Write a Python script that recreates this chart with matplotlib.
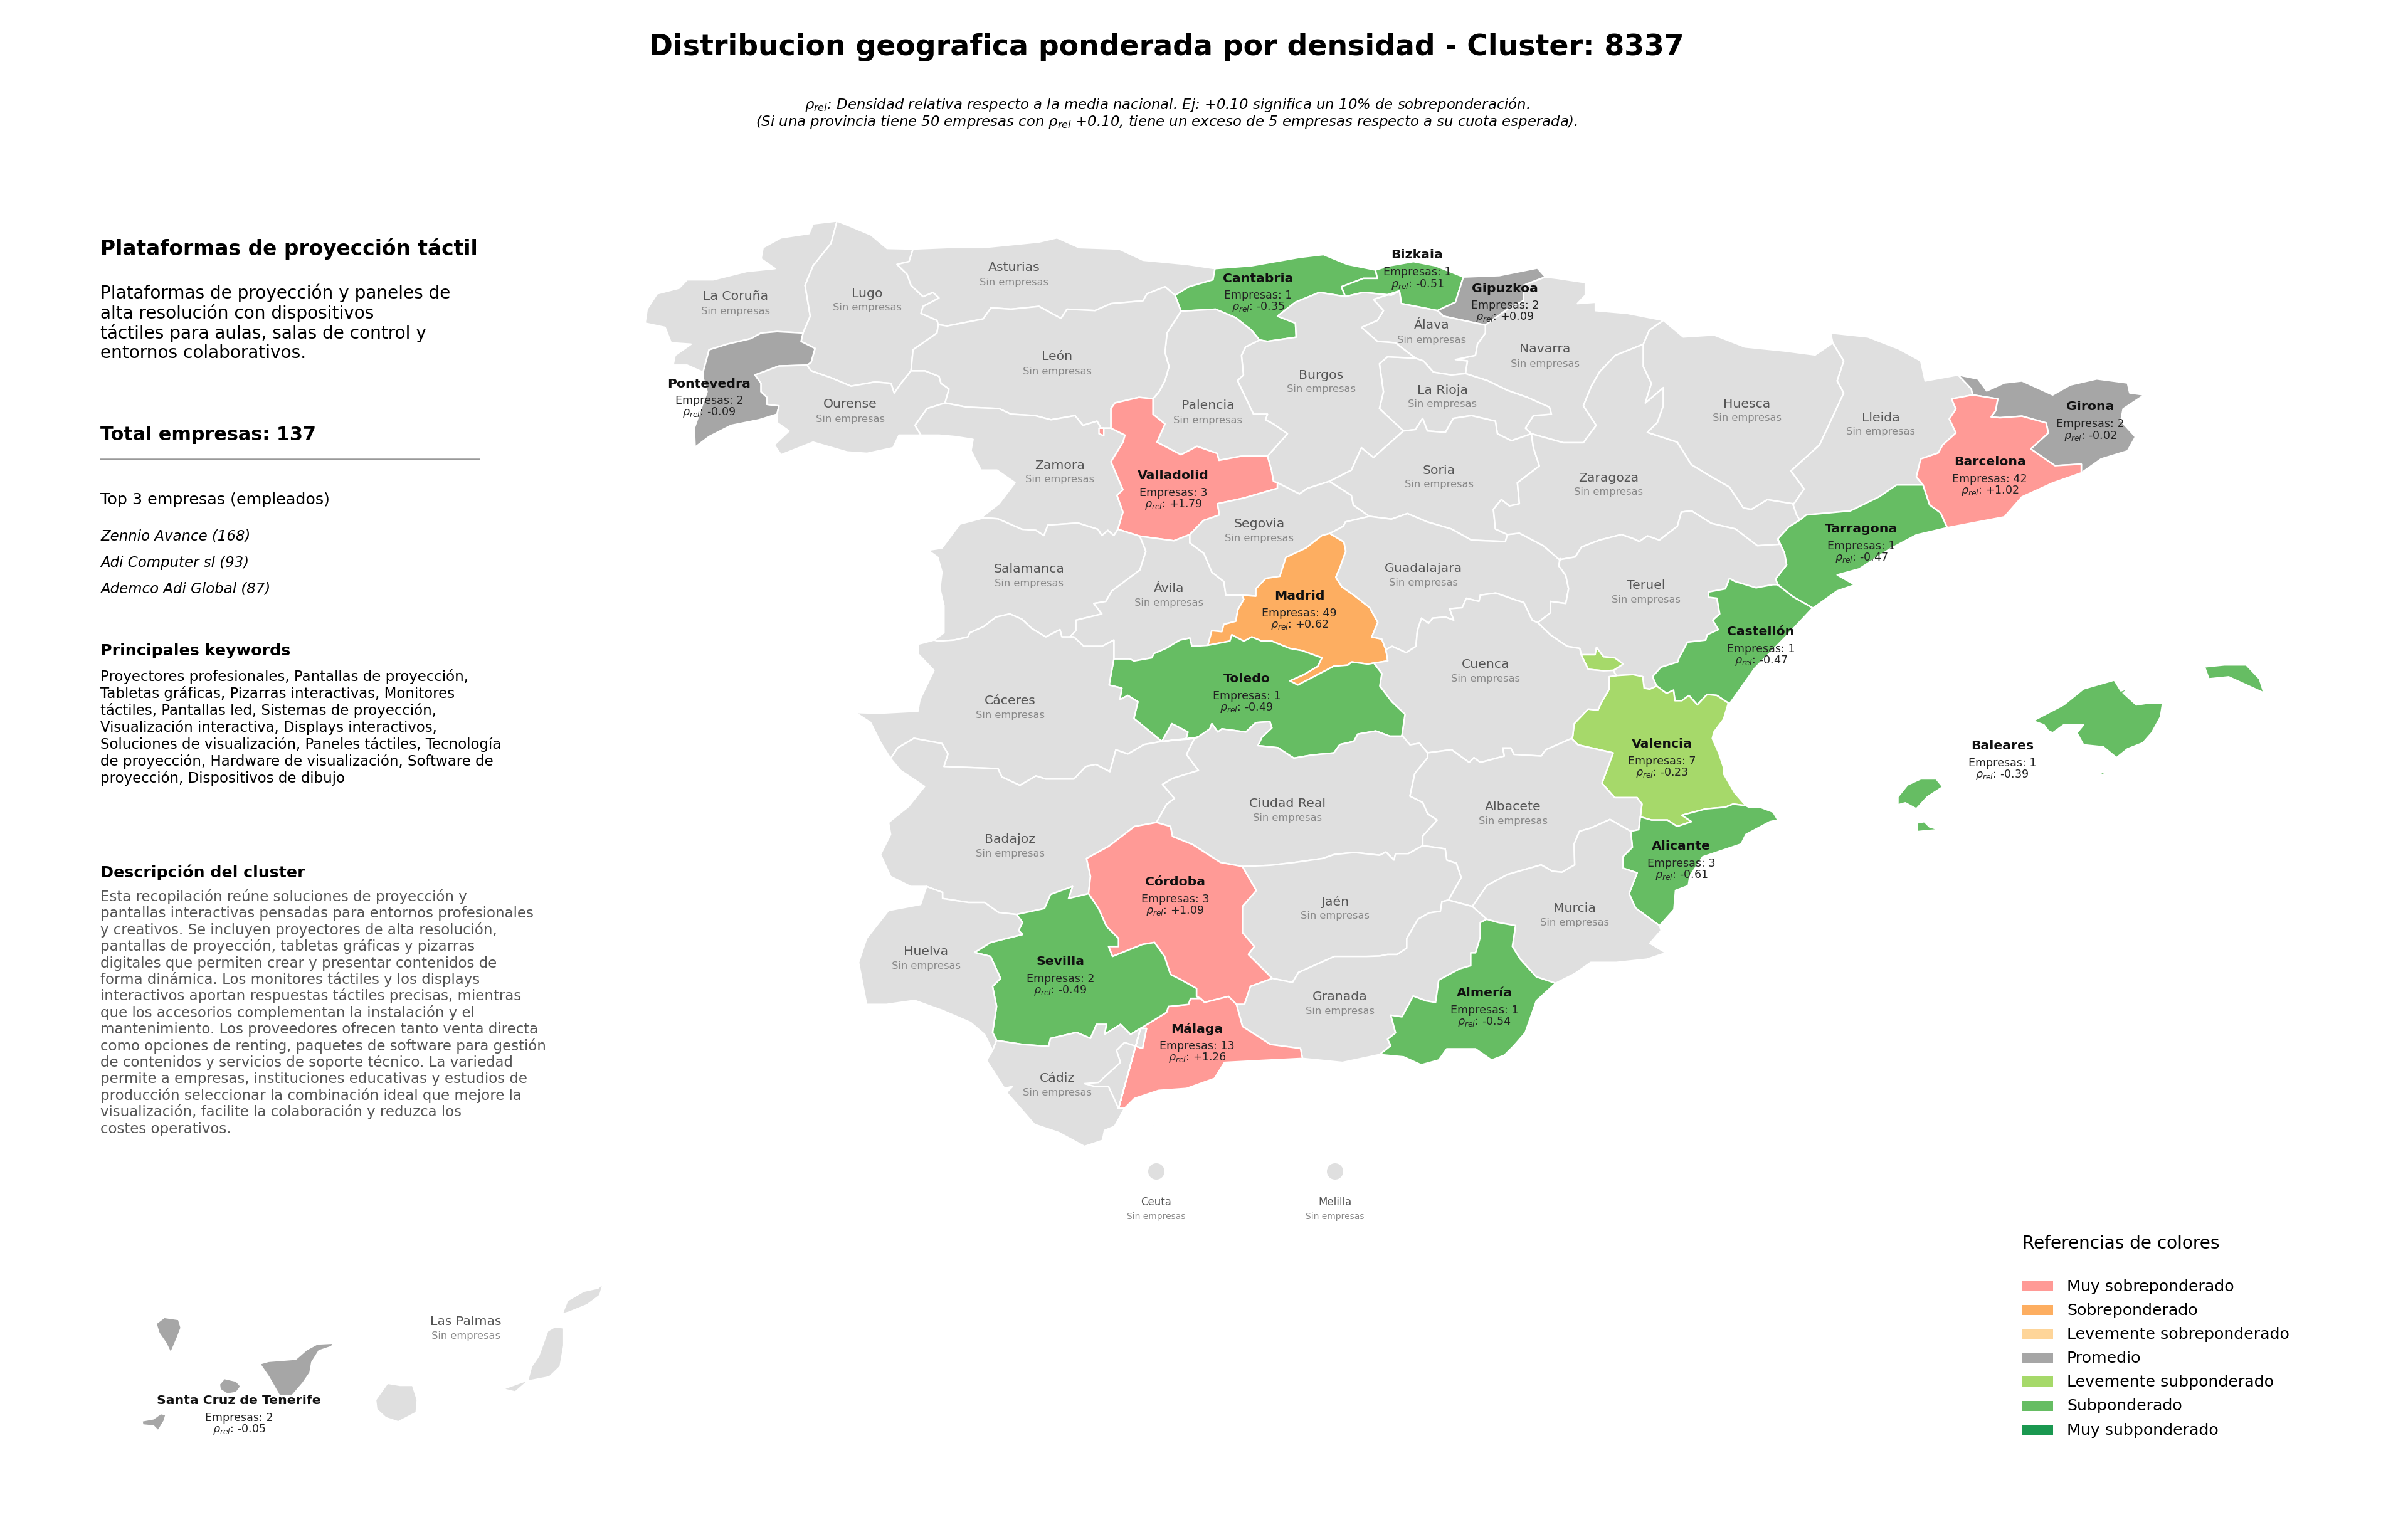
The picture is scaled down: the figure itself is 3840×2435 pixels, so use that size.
import matplotlib
matplotlib.use("Agg")
import matplotlib.pyplot as plt
from matplotlib.patches import Polygon, Rectangle, Circle

# ---- reading frames of the reference picture: origin and scale of each reading
def _frame(x0, y0, kx, ky):
    def f(*v):
        return [(x0 + v[i] / kx, y0 + v[i + 1] / ky) for i in range(0, len(v), 2)]
    return f
A = _frame(1000, 340, 1.568, 2.24)
B = _frame(1900, 340, 1.568, 2.24)
C = _frame(2600, 500, 1.4255, 1.568)
D = _frame(1350, 1000, 1.568, 1.568)
E = _frame(2200, 1000, 1.96, 1.96)
F = _frame(150, 2000, 1.742, 3.0)
G = _frame(1400, 800, 1.568, 3.0)
H = _frame(2200, 850, 2.24, 3.0)
def R(c):
    return list(reversed(c))

# ---- shared borders of the provinces
coast_cor = A(525,30, 465,40, 455,75, 385,90, 340,125, 335,165, 370,200, 300,210, 215,240, 150,240, 130,270, 75,290, 50,345, 45,395, 95,410, 110,465, 160,470, 120,510, 115,545, 150,545, 190,570)
cor_pon = A(190,570, 205,490, 250,470, 310,450, 335,430, 375,425, 440,430)
cor_lug = A(440,430, 458,370, 445,260, 465,190, 510,110, 525,30)
coast_lug = A(525,30, 560,50, 610,80, 650,128, 715,130)
lug_ast = A(715,130, 705,175, 675,185, 700,220, 710,260, 740,300, 765,285, 780,305, 740,335, 735,360, 775,385, 778,400)
lug_leo = A(778,400, 775,430, 715,490, 710,565)
lug_our = A(710,565, 685,610, 668,645, 660,610, 620,605, 560,620, 510,590, 460,565, 450,545)
lug_pon = A(450,545, 460,535, 470,485, 435,460, 440,430)
pon_our = A(450,545, 380,548, 320,580, 335,610, 335,640, 350,660, 350,685, 380,690, 375,720)
coast_pon = A(375,720, 330,740, 260,760, 205,800, 170,838, 168,770, 185,700, 200,640, 190,590, 190,570)
our_leo = A(710,565, 745,565, 780,585, 785,610, 805,630, 795,680)
our_zam = A(795,680, 750,700, 720,760, 735,795)
port_our = A(735,795, 680,795, 665,840, 600,860, 550,855, 465,820, 385,865, 368,830, 405,780, 375,750, 375,720)
coast_ast = A(715,130, 800,125, 890,125, 1030,105, 1075,90, 1130,125, 1230,130, 1290,170, 1400,185, 1470,200)
ast_can = A(1470,200, 1465,240, 1405,265, 1370,295)
ast_leo = A(1370,295, 1345,265, 1300,290, 1290,315, 1210,325, 1170,350, 1100,345, 1085,378, 1030,335, 960,345, 910,340, 890,380, 800,405, 778,400)
can_leo = A(1370,295, 1385,352)
coast_can = A(1470,200) + B(150,190, 270,160, 330,150, 390,185, 460,205)
can_biz = B(460,205, 465,235, 430,235, 375,265, 385,300)
can_bur = B(385,300, 320,285, 260,320, 215,370, 260,395, 262,445, 190,460, 170,455)
can_pal = B(170,455, 150,420, 110,375, 60,345, 0,350) + A(1385,352)
coast_biz = B(460,205, 495,190, 555,175, 610,190, 680,230)
biz_gip = B(680,230, 660,320, 615,350)
biz_ala = B(615,350, 525,325, 520,280)
biz_bur = B(520,280, 500,295, 430,285, 385,300)
coast_gip = B(680,230, 770,225, 865,198, 885,230)
gip_nav = B(885,230, 830,260, 830,315, 790,345, 735,402)
gip_ala = B(735,402, 630,370, 615,350)
nav_fr = B(885,230, 915,235, 985,250, 985,295, 965,325, 1010,320, 1010,350, 1090,360, 1180,385)
nav_hue = B(1180,385, 1145,420, 1130,470)
nav_zar = B(1130,470, 1060,510, 1020,570, 1000,620, 980,690, 1012,760, 980,822, 930,822, 850,790)
nav_rio = B(850,790, 835,770, 855,725, 900,720, 895,695, 840,660, 790,635, 740,600, 685,575)
nav_ala = B(685,575, 690,530, 660,525, 710,510, 715,470, 735,430, 735,402)
ala_rio = B(685,575, 650,580, 605,570, 580,530, 560,520)
ala_bur = B(560,520, 510,465, 465,460, 425,410, 465,385, 480,350, 455,310, 520,280)
rio_bur = B(560,520, 490,515, 470,540, 480,640, 470,700, 530,780)
rio_sor = B(850,790, 800,815, 765,790, 760,745, 700,725, 655,735, 635,785, 590,780, 578,735, 560,775, 530,780)
bur_pal = B(170,455, 135,480, 125,510, 130,580, 115,600, 135,660, 155,720, 190,720, 185,740, 205,755, 240,790, 190,870)
bur_val = B(190,870, 200,920, 205,960, 215,965)
bur_seg = B(215,965, 270,1005, 290,985, 345,960)
bur_sor = B(345,960, 400,920, 425,840, 455,875, 530,780)
pal_leo = A(1385,352, 1350,430, 1345,500, 1355,550, 1345,600, 1330,640, 1315,665)
val_pal = A(1315,665, 1315,720, 1345,755, 1325,820, 1385,865, 1425,835, 1475,860, 1480,885) + B(125,870, 190,870)
val_seg = B(215,965, 215,985, 130,1020, 65,1040, 70,1080, 30,1100) + G(780,160)
val_avi = G(780,160, 740,190, 655,168)
val_sal = G(600,135, 655,168)
val_zam = G(600,135) + A(1240,1070, 1225,1010, 1240,990, 1210,890, 1240,820, 1245,795, 1210,770)
val_leo = A(1210,770, 1210,700, 1220,680, 1280,660, 1315,665)
zam_leo = A(795,680, 850,695, 930,700, 960,720, 1020,725, 1060,740, 1120,725, 1140,760, 1175,745, 1185,770, 1210,770)
sal_zam = G(265,80, 300,85, 360,135, 395,140, 415,165, 425,115, 500,105, 550,135, 560,165, 575,140, 590,165, 600,135)
port_zam = A(885,1090, 930,1040, 970,965, 925,920, 885,920, 860,850, 865,810, 820,800, 780,795, 735,795)
sal_avi = G(655,168, 670,240, 655,330, 585,430, 570,480, 540,490, 560,540, 495,570, 495,620, 480,650)
sal_cac = G(480,650, 460,650, 455,615, 420,650, 385,610, 360,565, 330,540, 295,555, 265,600, 230,630, 225,650, 190,665, 150,670, 140,665)
port_sal = G(140,665, 165,630, 165,560, 165,500, 155,420, 160,340, 150,270, 125,235, 160,225, 205,110, 265,80)
avi_cac = G(590,755, 590,665, 560,695, 515,695, 490,650, 480,650)
avi_tol = G(825,690, 785,695, 780,655, 755,665, 720,705, 690,730, 685,750, 640,765, 630,755, 590,755)
avi_mad = G(910,450, 915,470, 900,520, 895,575, 865,590, 860,625, 835,620, 825,690)
avi_seg = G(780,160, 780,200, 815,250, 835,340, 865,385, 870,450, 910,450)
seg_sor = B(345,960, 400,1010, 405,1045, 445,1085)
seg_gua = B(445,1085, 385,1105, 380,1120) + G(1130,155)
seg_mad = G(1130,155, 1110,165, 1070,225, 1020,270, 1005,360, 970,370, 945,420, 945,455, 910,450)
sor_zar = B(850,790, 855,840, 870,905, 815,965, 820,1040, 795,1048, 775,1025, 755,1060, 760,1130, 790,1150)
sor_gua = B(790,1150, 785,1175, 700,1170, 650,1130, 590,1105, 540,1075, 500,1095, 445,1085)
gua_mad = G(1130,155, 1165,195, 1170,240, 1155,320, 1145,365, 1160,410, 1190,450, 1230,510, 1250,580, 1235,650, 1260,660, 1270,710)
cue_mad = G(1270,710, 1275,765, 1240,775)
mad_tol = G(1240,775, 1225,780, 1185,770, 1175,785, 1140,790, 1095,835, 1050,880, 1030,860, 1065,830, 1100,790, 1110,750, 1060,715, 1030,705, 985,670, 960,670, 935,650, 915,670, 885,640, 880,670, 825,690)
tol_cue = G(1240,775, 1260,825, 1255,885, 1285,960, 1318,1020, 1310,1125)
tol_cre = G(1310,1125, 1280,1125, 1245,1100, 1200,1115, 1190,1150, 1155,1165, 1140,1205, 1085,1215, 1040,1230, 1000,1180, 950,1170, 960,1130, 985,1085, 980,1055, 945,1060, 920,1105, 860,1090, 850,1105, 835,1065, 830,1090, 800,1130)
tol_bad = G(800,1130, 770,1140, 775,1105, 735,1065, 710,1150)
tol_cac = G(710,1150, 640,1040, 650,960, 625,930, 605,950, 610,895, 578,880, 590,755)
port_cac = G(140,665, 100,685, 100,730, 140,810, 105,950, 100,1005, 0,1015) + D(22,215, 60,240, 85,290, 110,330)
cac_bad = D(110,330) + G(50,1180, 90,1135, 160,1160, 175,1210, 165,1270, 300,1280, 310,1320, 355,1360, 395,1315, 420,1330, 490,1330, 520,1270, 545,1260, 580,1295, 595,1190, 625,1210, 665,1165, 710,1150)
bad_port = D(110,330, 135,360, 195,400, 155,450, 105,490, 110,520, 85,570, 110,625, 160,650, 200,650)
hue_bad = D(200,650, 240,665, 240,680, 305,690, 345,690, 380,715, 425,720)
sev_bad = D(425,720, 495,705, 510,670, 565,650, 555,680, 605,668)
cor_bad = D(775,490, 720,500, 655,550, 600,580, 610,625, 605,668)
bad_cre = D(775,490, 800,445, 820,430, 790,395, 815,380, 880,360, 850,320, 870,280)
cor_cre = D(775,490, 810,500, 815,525, 865,545, 935,590, 990,600)
jae_cre = E(135,685, 90,710, 50,710, 45,730, 20,705, 0,715) + D(1270,565, 1220,570, 1190,580, 1120,590, 1060,597, 990,600)
jae_cor = D(990,600, 1010,635, 1025,660, 990,700, 990,765, 1020,800, 1005,820, 1040,855, 1065,880)
cor_gra = D(975,945, 995,945, 1010,900, 1065,880)
cor_mal = D(885,930, 895,940, 955,925, 975,945)
cor_sev = D(605,668, 630,705, 650,750, 680,780, 680,800, 655,800, 665,825, 740,795, 770,790, 795,825, 810,870, 830,880, 875,905, 875,925, 885,930)
sev_mal = D(885,930, 860,930, 855,945, 805,950, 800,965, 735,1005)
sev_cad = D(735,1005, 710,1020, 685,995, 645,1020, 650,995, 625,995, 610,1030, 575,1015, 510,1030, 505,1050, 440,1045, 375,1035)
hue_sev = D(425,720, 440,740, 430,760, 440,770, 360,790, 320,815, 360,825, 385,880, 365,900, 375,950, 365,1015, 375,1035)
hue_cad = D(375,1035, 365,1060)
coast_hue = D(200,650, 185,695, 105,710, 50,780, 30,840, 50,945, 100,945, 170,935, 240,960, 310,990, 345,1020, 365,1060)
coast_cad = D(365,1060, 350,1085, 395,1155, 415,1150, 400,1165, 470,1245, 530,1265, 595,1300, 640,1285, 645,1260, 670,1250, 695,1205, 680,1205)
mal_cad = D(680,1205, 655,1150, 620,1150, 595,1143, 630,1140, 685,1090, 675,1060, 695,1040, 740,1055, 750,1005, 735,1005)
mal_gra = D(975,945, 990,1000, 1060,1045, 1135,1055, 1140,1080)
coast_mal = D(1140,1080, 1040,1085, 945,1090, 920,1130, 850,1155, 780,1160, 720,1180, 695,1205, 680,1205)
jae_gra = D(1065,880, 1115,890, 1130,865, 1220,825, 1300,825) + E(0,1030, 25,1025, 55,1025, 85,1005, 85,975, 120,915, 155,895, 190,890, 195,860, 215,855)
alb_jae = E(215,855, 255,785, 240,740, 210,730, 205,695, 135,685)
alb_gra = E(290,875, 215,855)
gra_mur = E(290,875, 335,915)
gra_alm = E(335,915, 315,925, 315,970, 300,1020, 285,1020, 285,1060, 250,1070, 185,1105, 175,1175, 145,1170, 105,1155, 70,1220, 35,1215, 50,1270, 25,1290, 35,1310, 0,1338)
coast_gra = E(0,1338) + D(1240,1090, 1140,1080)
alm_mur = E(335,915, 370,925, 425,935, 415,1000, 440,1040, 490,1095, 550,1115)
coast_alm = E(550,1115, 490,1170, 455,1270, 420,1310, 390,1340, 350,1355, 300,1320, 260,1320, 210,1320, 185,1355, 130,1370, 75,1345, 0,1338)
mur_ali = E(785,640, 790,690, 760,720, 760,755, 805,770, 780,835, 800,880, 875,935)
coast_mur = E(875,935, 880,950, 845,990, 895,1020, 835,1040, 740,1050, 660,1050, 610,1085, 550,1115)
coast_ali = E(875,935, 920,885, 925,825, 965,810, 970,780, 1010,720, 1130,680, 1145,650, 1220,610, 1245,605, 1230,580, 1190,565, 1155,565, 1145,560)
alb_ali = E(815,595, 810,635, 785,640)
alb_mur = E(785,640, 720,603, 660,630, 625,640, 608,680, 610,745, 570,768, 540,765, 505,745, 400,775, 335,810, 290,875)
alb_cre = E(150,395, 150,410, 110,460, 95,530, 135,550, 150,585, 180,605, 135,655, 135,685)
cue_cre = E(70,340, 95,370, 125,365, 150,395)
cue_alb = E(150,395, 225,385, 280,425, 295,410, 315,425, 390,405, 385,380, 410,380, 420,400, 505,405, 520,385, 600,350)
val_alb = E(815,595, 820,555, 805,535, 735,535, 695,490, 730,395, 620,370, 600,350)
val_ali = E(1145,560, 1105,555, 1080,565, 1020,570, 945,590, 975,610, 930,625, 900,605, 850,605, 815,595)
coast_val = E(1090,240, 1075,290, 1045,330, 1040,350, 1060,395, 1075,440, 1075,460, 1110,520, 1145,560)
val_cue = E(600,350) + H(690,975, 695,915, 745,845, 780,850, 790,820, 820,750, 820,690, 845,685)
val_ter = H(845,685, 905,680, 940,690, 945,745, 965,750, 990,735)
val_cas = H(990,735, 1025,770, 1050,755, 1055,805, 1080,805, 1105,780, 1135,825, 1170,775, 1205,780, 1250,820)
coast_cas = H(1250,820, 1340,650, 1450,500, 1548,360)
ter_cas = H(990,735, 975,690, 1005,645, 1065,620, 1070,600, 1100,525, 1165,515, 1170,490, 1210,465, 1190,420, 1215,390, 1205,315, 1175,310, 1175,285, 1235,270, 1250,220, 1270,235, 1345,265, 1405,250, 1425,250)
cue_ter = H(845,685, 835,660, 870,630, 840,600, 800,595, 775,550, 770,585, 720,585, 715,555, 670,545, 610,490, 565,432)
cue_enc = H(565,432, 610,490, 670,545, 715,555, 720,585, 745,655, 800,662, 835,660, 845,685)
cue_gua = G(1270,710) + H(45,545, 95,575, 130,545, 135,470, 150,410, 175,435, 190,410, 235,405, 265,420, 250,365, 295,360, 310,315, 355,330, 360,300, 415,290, 490,325, 515,335, 545,420, 565,432)
gua_ter = H(565,432, 610,385, 610,330, 665,340, 675,270, 665,205, 640,160, 645,125)
gua_zar = B(790,1150, 820,1145, 880,1190, 920,1240)
zar_ter = B(920,1240, 960,1230, 975,1195, 1020,1170, 1075,1150, 1105,1165, 1120,1175, 1140,1155, 1170,1170, 1215,1120, 1225,1070, 1250,1065, 1300,1110, 1360,1130, 1415,1190, 1470,1185)
zar_tar = C(385,518, 360,535, 335,565)
lle_zar = C(385,518, 378,505, 370,480)
hue_zar = B(1130,470, 1130,550, 1150,610, 1135,680, 1180,625, 1180,690, 1165,750, 1140,785, 1215,820, 1250,900, 1290,935, 1345,980, 1380,1055, 1400,1060, 1440,1025, 1505,1040)
hue_fr = B(1180,385) + C(120,60, 190,55, 260,85, 350,95, 420,105, 460,75)
hue_lle = C(460,75, 485,120, 470,170, 485,200, 430,330, 365,395, 395,440, 370,480)
lle_fr = C(460,75, 455,50, 540,60, 610,90, 660,120, 670,170, 745,155)
lle_gir = C(745,155, 775,190, 778,205)
lle_bar = C(778,205, 730,215, 740,240, 725,265, 740,300, 710,330, 700,350, 660,365, 650,410, 665,430)
lle_tar = C(665,430, 605,430, 565,460, 500,495, 400,505, 385,518)
bar_tar = C(665,430, 680,480, 705,500, 720,537)
coast_bar = C(720,537, 850,510, 890,460, 960,425, 1025,400)
gir_bar = C(1025,400, 1025,378, 965,382, 910,340, 950,300, 945,275, 890,258, 840,262, 820,260, 830,245, 835,215, 778,205)
gir_top = C(745,155, 790,165, 810,195, 850,175, 890,170, 960,205, 1000,180, 1060,165, 1130,175, 1135,200, 1168,205, 1120,240, 1115,270, 1148,310, 1130,345, 1070,365, 1025,400)
coast_tar = C(720,537, 650,555, 590,590, 520,640, 470,655, 510,680, 470,695, 415,738)
tar_cas = C(415,738, 370,710, 335,680)
tar_ter = C(335,680, 330,665, 355,630, 350,600, 335,565)

# ---- islands and detached pieces
mallorca = C(915,1020, 950,1000, 985,980, 1030,940, 1100,918, 1115,945, 1140,935, 1120,950, 1150,980, 1180,975, 1210,975, 1205,1010, 1185,1050, 1165,1075, 1130,1090, 1105,1112, 1075,1085, 1030,1080, 1015,1050, 1030,1030, 985,1030, 960,1050, 950,1045, 940,1030)
menorca = C(1305,885, 1350,880, 1400,880, 1430,915, 1440,950, 1400,930, 1360,910, 1315,915)
ibiza = C(608,1210, 630,1180, 660,1165, 695,1165, 710,1185, 675,1210, 650,1240, 625,1225, 608,1230)
formentera = C(652,1275, 668,1272, 680,1285, 702,1292, 670,1295, 652,1297)
cabrera = C(1064,1150, 1078,1148, 1076,1156)
la_palma = F(172,335, 195,305, 235,315, 242,355, 232,400, 213,477, 200,430, 180,380)
tenerife = F(460,527, 485,515, 560,505, 590,460, 620,432, 665,428, 660,445, 625,465, 605,520, 600,570, 580,620, 550,680, 515,680, 485,590)
gomera = F(348,625, 362,597, 395,610, 408,635, 395,665, 370,672, 350,650)
hierro = F(133,800, 165,790, 185,765, 200,770, 195,800, 178,848, 165,825, 135,820)
gran_canaria = F(782,700, 815,620, 850,630, 885,630, 898,700, 895,760, 845,805, 810,785, 785,745)
fuerteventura = F(1135,648, 1205,605, 1215,540, 1235,490, 1260,370, 1280,350, 1305,355, 1305,440, 1295,540, 1265,590, 1205,610, 1170,662)
lanzarote = F(1300,290, 1315,225, 1360,180, 1400,165, 1415,140, 1405,200, 1370,245, 1320,280)
graciosa = F(1390,128, 1395,108, 1398,125)
ademuz = H(720,585, 745,655, 800,662, 835,660, 870,630, 840,600, 800,595, 775,550, 770,585)
orduna = B(490,350, 505,345, 512,362, 490,365)
val_piece = A(1180,770, 1192,770, 1192,797, 1180,790)
columbretes = C(440,727, 465,720, 455,728)
alboran = D(753,1243, 767,1248, 760,1250)

SHAPES = {
 "La Coruña": [coast_cor + cor_pon + cor_lug],
 "Lugo": [coast_lug + lug_ast + lug_leo + lug_our + lug_pon + cor_lug],
 "Pontevedra": [pon_our + coast_pon + cor_pon + R(lug_pon)],
 "Ourense": [R(lug_our) + our_leo + our_zam + port_our + R(pon_our)],
 "Asturias": [coast_ast + ast_can + ast_leo + R(lug_ast)],
 "Cantabria": [coast_can + can_biz + can_bur + can_pal + R(can_leo) + R(ast_can)],
 "Bizkaia": [coast_biz + biz_gip + biz_ala + biz_bur + R(can_biz), orduna],
 "Gipuzkoa": [coast_gip + gip_nav + gip_ala + R(biz_gip)],
 "Navarra": [nav_fr + nav_hue + nav_zar + nav_rio + nav_ala + R(gip_nav)],
 "Álava": [R(gip_ala) + R(nav_ala) + ala_rio + ala_bur + R(biz_ala)],
 "La Rioja": [R(ala_rio) + R(nav_rio) + rio_sor + R(rio_bur)],
 "Burgos": [can_bur + bur_pal + bur_val + bur_seg + bur_sor + R(rio_bur) + ala_bur + biz_bur],
 "Palencia": [R(can_pal) + bur_pal + R(val_pal) + R(pal_leo)],
 "León": [R(ast_leo) + can_leo + pal_leo + R(val_leo) + R(zam_leo) + R(our_leo) + R(lug_leo)],
 "Zamora": [zam_leo + R(val_zam) + R(sal_zam) + port_zam + R(our_zam)],
 "Valladolid": [val_pal + bur_val + val_seg + val_avi + R(val_sal) + val_zam + val_leo, val_piece],
 "Salamanca": [sal_zam + val_sal + sal_avi + sal_cac + port_sal],
 "Ávila": [sal_avi + R(avi_cac) + R(avi_tol) + R(avi_mad) + R(avi_seg) + val_avi],
 "Segovia": [bur_seg + seg_sor + seg_gua + seg_mad + R(avi_seg) + R(val_seg)],
 "Soria": [bur_sor + R(rio_sor) + sor_zar + sor_gua + R(seg_sor)],
 "Madrid": [gua_mad + cue_mad + mad_tol + R(avi_mad) + R(seg_mad)],
 "Guadalajara": [sor_gua + seg_gua + gua_mad + cue_gua + gua_ter + R(gua_zar)],
 "Zaragoza": [sor_zar + gua_zar + zar_ter + R(zar_tar) + lle_zar + R(hue_zar) + nav_zar],
 "Huesca": [hue_fr + hue_lle + R(hue_zar) + R(nav_hue)],
 "Lleida": [lle_fr + lle_gir + lle_bar + lle_tar + lle_zar + R(hue_lle)],
 "Girona": [gir_top + gir_bar + R(lle_gir)],
 "Barcelona": [lle_bar + bar_tar + coast_bar + gir_bar],
 "Tarragona": [R(lle_tar) + bar_tar + coast_tar + tar_cas + tar_ter + R(zar_tar), columbretes],
 "Teruel": [gua_ter + zar_ter + R(tar_ter) + R(ter_cas) + R(val_ter) + cue_ter],
 "Castellón": [val_cas + coast_cas + tar_cas + R(ter_cas)],
 "Valencia": [val_ter + val_cas + coast_val + val_ali + val_alb + val_cue, ademuz],
 "Cuenca": [cue_gua + cue_enc + R(val_cue) + R(cue_alb) + R(cue_cre) + R(tol_cue) + R(cue_mad)],
 "Toledo": [R(mad_tol) + tol_cue + tol_cre + tol_bad + tol_cac + R(avi_tol)],
 "Cáceres": [avi_cac + sal_cac + port_cac + cac_bad + tol_cac],
 "Badajoz": [R(cac_bad) + bad_port + hue_bad + sev_bad + R(cor_bad) + bad_cre + R(tol_bad)],
 "Ciudad Real": [R(tol_cre) + cue_cre + alb_cre + jae_cre + R(cor_cre) + bad_cre],
 "Albacete": [cue_alb + R(val_alb) + alb_ali + alb_mur + alb_gra + alb_jae + R(alb_cre)],
 "Alicante": [val_ali + alb_ali + mur_ali + coast_ali],
 "Murcia": [R(alb_mur) + mur_ali + coast_mur + R(alm_mur) + R(gra_mur)],
 "Córdoba": [cor_cre + jae_cor + R(cor_gra) + R(cor_mal) + R(cor_sev) + R(cor_bad)],
 "Jaén": [jae_cre + jae_cor + jae_gra + alb_jae],
 "Granada": [R(alb_gra) + gra_mur + gra_alm + coast_gra + R(mal_gra) + cor_gra + jae_gra],
 "Almería": [alm_mur + coast_alm + R(gra_alm)],
 "Málaga": [R(sev_mal) + cor_mal + mal_gra + coast_mal + mal_cad],
 "Sevilla": [sev_bad + cor_sev + sev_mal + sev_cad + R(hue_sev)],
 "Huelva": [hue_bad + hue_sev + hue_cad + R(coast_hue)],
 "Cádiz": [sev_cad + hue_cad + coast_cad + R(mal_cad), alboran],
 "Baleares": [mallorca, menorca, ibiza, formentera, cabrera],
 "Santa Cruz de Tenerife": [la_palma, tenerife, gomera, hierro],
 "Las Palmas": [gran_canaria, fuerteventura, lanzarote, graciosa],
}

# ---- values
LEVELS = ["Muy sobreponderado", "Sobreponderado", "Levemente sobreponderado", "Promedio",
          "Levemente subponderado", "Subponderado", "Muy subponderado"]
LEVEL_COLORS = ["#FF9A96", "#FDAE61", "#FED599", "#A6A6A6", "#A6D96A", "#66BD63", "#1A9850"]
NO_DATA = "#DFDFDF"

# name, empresas, rho, level index, label x, label y
COMPANIES = [
 ("Pontevedra", 2, "-0.09", 3, 1131, 612), ("Cantabria", 1, "-0.35", 5, 2006, 444),
 ("Bizkaia", 1, "-0.51", 5, 2260, 407), ("Gipuzkoa", 2, "+0.09", 3, 2400, 460),
 ("Valladolid", 3, "+1.79", 0, 1871, 759), ("Madrid", 49, "+0.62", 1, 2072, 951),
 ("Girona", 2, "-0.02", 3, 3333, 649), ("Barcelona", 42, "+1.02", 0, 3173, 737),
 ("Tarragona", 1, "-0.47", 5, 2968, 844), ("Castellón", 1, "-0.47", 5, 2808, 1008),
 ("Baleares", 1, "-0.39", 5, 3193, 1190), ("Valencia", 7, "-0.23", 4, 2650, 1187),
 ("Alicante", 3, "-0.61", 5, 2681, 1350), ("Almería", 1, "-0.54", 5, 2367, 1584),
 ("Toledo", 1, "-0.49", 5, 1988, 1083), ("Córdoba", 3, "+1.09", 0, 1874, 1407),
 ("Sevilla", 2, "-0.49", 5, 1691, 1534), ("Málaga", 13, "+1.26", 0, 1909, 1641),
 ("Santa Cruz de Tenerife", 2, "-0.05", 3, 381, 2234),
]
EMPTY = [
 ("La Coruña", 1173, 473), ("Lugo", 1383, 468), ("Asturias", 1617, 427), ("León", 1686, 569),
 ("Ourense", 1356, 645), ("Palencia", 1926, 647), ("Zamora", 1690, 742), ("Salamanca", 1641, 908),
 ("Ávila", 1864, 939), ("Segovia", 2008, 836), ("Álava", 2283, 519), ("Navarra", 2464, 557),
 ("Burgos", 2107, 598), ("La Rioja", 2300, 622), ("Soria", 2295, 750), ("Zaragoza", 2565, 762),
 ("Huesca", 2786, 644), ("Lleida", 2999, 666), ("Guadalajara", 2270, 907), ("Teruel", 2625, 934),
 ("Cuenca", 2369, 1060), ("Cáceres", 1611, 1118), ("Badajoz", 1611, 1339), ("Ciudad Real", 2053, 1282),
 ("Huelva", 1477, 1518), ("Jaén", 2129, 1438), ("Granada", 2137, 1590), ("Cádiz", 1686, 1720),
 ("Albacete", 2413, 1287), ("Murcia", 2511, 1449), ("Las Palmas", 743, 2108),
]
CITIES = [("Ceuta", 1844, 1869), ("Melilla", 2129, 1869)]

TITLE = "Distribucion geografica ponderada por densidad - Cluster: 8337"
SUBTITLE = [r"$\rho_{rel}$: Densidad relativa respecto a la media nacional. Ej: +0.10 significa un 10% de sobreponderación.",
            r"(Si una provincia tiene 50 empresas con $\rho_{rel}$ +0.10, tiene un exceso de 5 empresas respecto a su cuota esperada)."]
HEAD = "Plataformas de proyección táctil"
INTRO = ["Plataformas de proyección y paneles de", "alta resolución con dispositivos",
         "táctiles para aulas, salas de control y", "entornos colaborativos."]
TOTAL = "Total empresas: 137"
TOP_HEAD = "Top 3 empresas (empleados)"
TOP = ["Zennio Avance (168)", "Adi Computer sl (93)", "Ademco Adi Global (87)"]
KW_HEAD = "Principales keywords"
KEYWORDS = ["Proyectores profesionales, Pantallas de proyección,",
            "Tabletas gráficas, Pizarras interactivas, Monitores",
            "táctiles, Pantallas led, Sistemas de proyección,",
            "Visualización interactiva, Displays interactivos,",
            "Soluciones de visualización, Paneles táctiles, Tecnología",
            "de proyección, Hardware de visualización, Software de",
            "proyección, Dispositivos de dibujo"]
DESC_HEAD = "Descripción del cluster"
DESCRIPTION = ["Esta recopilación reúne soluciones de proyección y",
               "pantallas interactivas pensadas para entornos profesionales",
               "y creativos. Se incluyen proyectores de alta resolución,",
               "pantallas de proyección, tabletas gráficas y pizarras",
               "digitales que permiten crear y presentar contenidos de",
               "forma dinámica. Los monitores táctiles y los displays",
               "interactivos aportan respuestas táctiles precisas, mientras",
               "que los accesorios complementan la instalación y el",
               "mantenimiento. Los proveedores ofrecen tanto venta directa",
               "como opciones de renting, paquetes de software para gestión",
               "de contenidos y servicios de soporte técnico. La variedad",
               "permite a empresas, instituciones educativas y estudios de",
               "producción seleccionar la combinación ideal que mejore la",
               "visualización, facilite la colaboración y reduzca los",
               "costes operativos."]

# ---- drawing
W, Hh = 3840, 2436
fig = plt.figure(figsize=(W / 300, Hh / 300), dpi=300)
ax = fig.add_axes([0, 0, 1, 1])
ax.set_xlim(0, W)
ax.set_ylim(Hh, 0)
ax.axis("off")

colour = {name: NO_DATA for name in SHAPES}
for row in COMPANIES:
    colour[row[0]] = LEVEL_COLORS[row[3]]
for name, parts in SHAPES.items():
    for part in parts:
        ax.add_patch(Polygon(part, closed=True, facecolor=colour[name], edgecolor="white",
                             linewidth=0.6, joinstyle="round", zorder=1))
for name, x, y in CITIES:
    ax.add_patch(Circle((x, y), 13, facecolor=NO_DATA, edgecolor="none", zorder=1))

def t(x, y, s, size, **kw):
    kw.setdefault("ha", "left")
    kw.setdefault("va", "center")
    kw.setdefault("color", "black")
    return ax.text(x, y, s, fontsize=size, zorder=3, **kw)

for name, n, rho, lev, x, y in COMPANIES:
    t(x, y, name, 4.88, ha="center", fontweight="bold", color="#111111")
    t(x, y + 27, f"Empresas: {n}", 4.2, ha="center", color="#222222")
    t(x, y + 46, r"$\rho_{rel}$: " + rho, 4.2, ha="center", color="#222222")
for name, x, y in EMPTY:
    t(x, y, name, 4.9, ha="center", color="#555555")
    t(x, y + 23, "Sin empresas", 3.9, ha="center", color="#888888")
for name, x, y in CITIES:
    t(x, y + 48, name, 4.0, ha="center", color="#555555")
    t(x, y + 71, "Sin empresas", 3.35, ha="center", color="#888888")

t(1860, 75, TITLE, 10.97, ha="center", fontweight="bold")
t(1861, 167, SUBTITLE[0], 5.47, ha="center", style="italic")
t(1861, 195, SUBTITLE[1], 5.47, ha="center", style="italic")

LEFT = 160
t(LEFT, 397, HEAD, 7.9, fontweight="bold")
for i, s in enumerate(INTRO):
    t(LEFT, 476 + i * 31.8, s, 6.72, va="baseline")
t(LEFT, 693, TOTAL, 7.26, fontweight="bold")
ax.plot([LEFT, 764], [733, 733], color="#999999", linewidth=0.6, zorder=3)
t(LEFT, 804, TOP_HEAD, 6.08, va="baseline")
for i, s in enumerate(TOP):
    t(LEFT, 862 + i * 42, s, 5.5, va="baseline", style="italic")
t(LEFT, 1038, KW_HEAD, 6.09, fontweight="bold")
for i, s in enumerate(KEYWORDS):
    t(LEFT, 1086 + i * 27, s, 5.5, va="baseline")
t(LEFT, 1391, DESC_HEAD, 6.05, fontweight="bold")
for i, s in enumerate(DESCRIPTION):
    t(LEFT, 1437 + i * 26.4, s, 5.5, va="baseline", color="#555555")

t(3225, 1983, "Referencias de colores", 6.7)
for i, (lab, col) in enumerate(zip(LEVELS, LEVEL_COLORS)):
    y = 2052 + i * 38.1
    ax.add_patch(Rectangle((3225, y - 8), 49, 16, facecolor=col, edgecolor="none", zorder=3))
    t(3296, y, lab, 6.07)

fig.savefig("out.png", dpi=300, facecolor="white")
